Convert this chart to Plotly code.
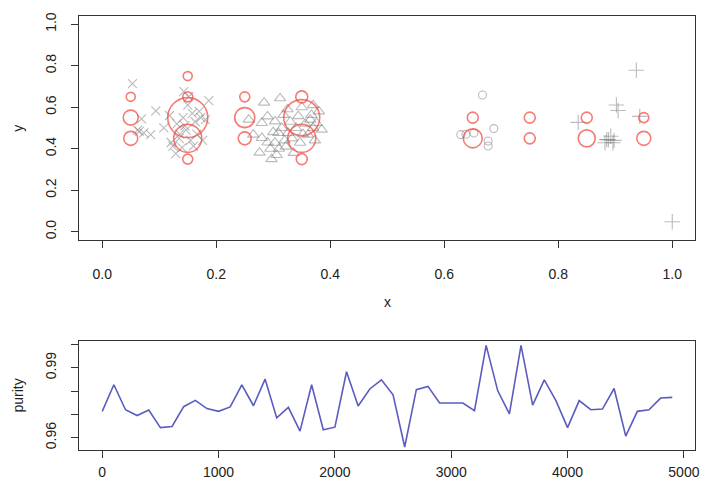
import numpy as np
import plotly.graph_objects as go

# ---- observations, grouped by cluster (drawn with different symbols) ----
clu1_x = [0.053, 0.062, 0.069, 0.065, 0.073, 0.085, 0.094, 0.108, 0.118, 0.121, 0.124, 0.129,
          0.131, 0.136, 0.140, 0.142, 0.143, 0.147, 0.150, 0.152, 0.155, 0.158, 0.160, 0.163,
          0.166, 0.170, 0.173, 0.176, 0.181, 0.187, 0.145, 0.135]
clu1_y = [0.714, 0.490, 0.544, 0.484, 0.476, 0.468, 0.582, 0.500, 0.560, 0.430, 0.413, 0.376,
          0.520, 0.470, 0.405, 0.550, 0.675, 0.490, 0.610, 0.651, 0.440, 0.570, 0.413, 0.530,
          0.470, 0.580, 0.550, 0.440, 0.540, 0.632, 0.510, 0.450]

clu2_x = [0.257, 0.265, 0.276, 0.280, 0.280, 0.284, 0.290, 0.295, 0.297, 0.300, 0.303, 0.303,
          0.306, 0.309, 0.312, 0.315, 0.318, 0.320, 0.322, 0.325, 0.326, 0.330, 0.333, 0.336,
          0.340, 0.344, 0.347, 0.350, 0.352, 0.356, 0.361, 0.365, 0.367, 0.370, 0.373, 0.376,
          0.380, 0.385, 0.310, 0.290, 0.370]
clu2_y = [0.540, 0.468, 0.381, 0.524, 0.452, 0.622, 0.556, 0.400, 0.350, 0.480, 0.532, 0.429,
          0.370, 0.476, 0.643, 0.500, 0.563, 0.440, 0.410, 0.590, 0.476, 0.530, 0.450, 0.380,
          0.500, 0.557, 0.429, 0.600, 0.470, 0.520, 0.468, 0.540, 0.563, 0.500, 0.440, 0.524,
          0.580, 0.492, 0.400, 0.430, 0.610]

clu3_x = [0.629, 0.638, 0.652, 0.667, 0.677, 0.677, 0.687]
clu3_y = [0.468, 0.470, 0.476, 0.659, 0.437, 0.413, 0.497]

clu4_x = [0.835, 0.882, 0.885, 0.888, 0.892, 0.896, 0.902, 0.905, 0.898, 0.937, 0.943, 1.000]
clu4_y = [0.527, 0.429, 0.444, 0.444, 0.460, 0.429, 0.611, 0.584, 0.440, 0.778, 0.556, 0.048]

# ---- particle locations and weights ----
part_x = [0.05, 0.05, 0.05, 0.15, 0.15, 0.15, 0.15, 0.15, 0.25, 0.25, 0.25,
          0.35, 0.35, 0.35, 0.35, 0.65, 0.65, 0.75, 0.75, 0.85, 0.85, 0.95, 0.95]
part_y = [0.65, 0.55, 0.45, 0.75, 0.65, 0.55, 0.45, 0.35, 0.65, 0.55, 0.45,
          0.65, 0.55, 0.45, 0.35, 0.55, 0.45, 0.55, 0.45, 0.55, 0.45, 0.55, 0.45]
part_w = [0.0081, 0.0225, 0.0196, 0.0081, 0.0100, 0.1600, 0.0784, 0.0100, 0.0100, 0.0400, 0.0169,
          0.0144, 0.1296, 0.0784, 0.0121, 0.0121, 0.0361, 0.0121, 0.0121, 0.0121, 0.0289, 0.0100, 0.0196]

# ---- purity trace ----
iters = list(range(0, 5000, 100))
purity = [0.9713, 0.9827, 0.9720, 0.9695, 0.9719, 0.9643, 0.9648, 0.9733, 0.9760, 0.9725,
          0.9713, 0.9732, 0.9827, 0.9737, 0.9851, 0.9685, 0.9730, 0.9628, 0.9827, 0.9634,
          0.9645, 0.9883, 0.9736, 0.9809, 0.9848, 0.9784, 0.9560, 0.9806, 0.9820, 0.9749,
          0.9749, 0.9749, 0.9716, 0.9996, 0.9801, 0.9702, 0.9996, 0.9740, 0.9848, 0.9759,
          0.9643, 0.9759, 0.9720, 0.9723, 0.9811, 0.9607, 0.9713, 0.9720, 0.9770, 0.9773]

GREY = "rgba(120,120,120,0.5)"
RED = "#f2433a"
BLUE = "#5a5cc0"
INK = "#333333"
FONT = dict(family="Liberation Sans, Arial, sans-serif", size=14, color="#222222")

fig = go.Figure()

for xs, ys, sym, sz in [(clu1_x, clu1_y, "x-thin-open", 9),
                        (clu2_x, clu2_y, "triangle-up-open", 10),
                        (clu3_x, clu3_y, "circle-open", 8),
                        (clu4_x, clu4_y, "cross-thin-open", 11)]:
    fig.add_trace(go.Scatter(x=xs, y=ys, mode="markers", xaxis="x", yaxis="y",
                             marker=dict(symbol=sym, size=sz, color=GREY,
                                         line=dict(color=GREY, width=1.1)),
                             showlegend=False))

fig.add_trace(go.Scatter(x=part_x, y=part_y, mode="markers", xaxis="x", yaxis="y",
                         marker=dict(symbol="circle-open",
                                     size=[100 * np.sqrt(w) for w in part_w],
                                     color=RED, line=dict(color=RED, width=1.6)),
                         showlegend=False))

fig.add_trace(go.Scatter(x=iters, y=purity, mode="lines", xaxis="x2", yaxis="y2",
                         line=dict(color=BLUE, width=1.6), showlegend=False))

axis_style = dict(showline=True, mirror=True, linecolor=INK, linewidth=1,
                  ticks="outside", ticklen=7, tickcolor=INK, tickwidth=1,
                  showgrid=False, zeroline=False, tickfont=FONT)

W, H = 709, 484
fig.update_layout(
    width=W, height=H,
    margin=dict(l=0, r=0, t=0, b=0),
    paper_bgcolor="white", plot_bgcolor="white",
    font=FONT,
    xaxis=dict(domain=[80 / W, 700 / W], range=[-0.04, 1.04], anchor="y",
               tickvals=[0, 0.2, 0.4, 0.6, 0.8, 1.0],
               ticktext=["0.0", "0.2", "0.4", "0.6", "0.8", "1.0"],
               ticklabelstandoff=14, **axis_style),
    yaxis=dict(domain=[(H - 238) / H, (H - 12) / H], range=[-0.04, 1.04], anchor="x",
               tickvals=[0, 0.2, 0.4, 0.6, 0.8, 1.0],
               ticktext=["0.0", "0.2", "0.4", "0.6", "0.8", "1.0"],
               tickangle=-90, ticklabelstandoff=10, **axis_style),
    xaxis2=dict(domain=[80 / W, 700 / W], range=[-196, 5096], anchor="y2",
                tickvals=[0, 1000, 2000, 3000, 4000, 5000],
                ticktext=["0", "1000", "2000", "3000", "4000", "5000"],
                ticklabelstandoff=2, **axis_style),
    yaxis2=dict(domain=[(H - 450) / H, (H - 340) / H], range=[0.9546, 1.0014], anchor="x2",
                tickvals=[0.96, 0.97, 0.98, 0.99, 1.00],
                ticktext=["0.96", "", "", "0.99", ""],
                tickangle=-90, ticklabelstandoff=10, **axis_style),
    annotations=[
        dict(text="x", x=390 / W, y=(H - 300) / H, xref="paper", yref="paper",
             showarrow=False, font=FONT, xanchor="center", yanchor="middle"),
        dict(text="y", x=18 / W, y=(H - 125) / H, xref="paper", yref="paper",
             showarrow=False, font=FONT, textangle=-90, xanchor="center", yanchor="middle"),
        dict(text="purity", x=18 / W, y=(H - 395) / H, xref="paper", yref="paper",
             showarrow=False, font=FONT, textangle=-90, xanchor="center", yanchor="middle"),
    ],
)

fig.write_html("out.html")
